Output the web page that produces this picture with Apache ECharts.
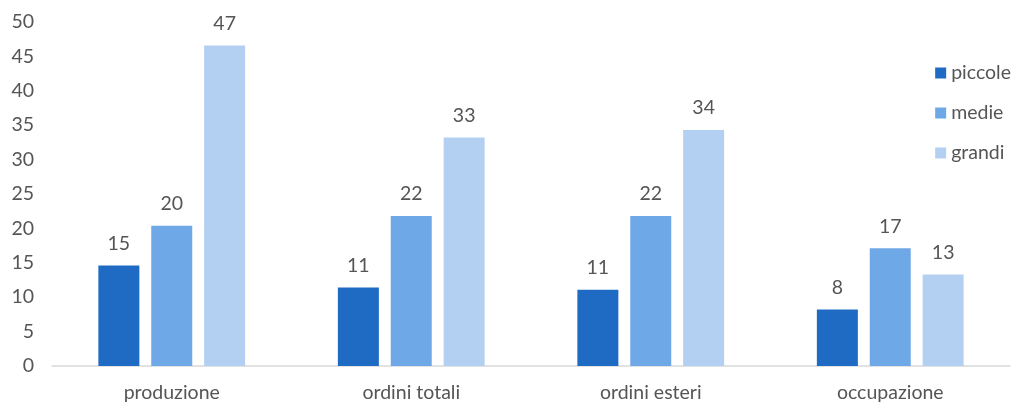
<!DOCTYPE html>
<html><head><meta charset="utf-8">
<script src="https://cdn.jsdelivr.net/npm/echarts@6/dist/echarts.min.js"></script>
<style>html,body{margin:0;padding:0;background:#fff}#c{width:1018px;height:403px}</style>
</head><body><div id="c"></div>
<script>
const categories = ['produzione', 'ordini totali', 'ordini esteri', 'occupazione'];
const piccole = [14.6, 11.4, 11.1, 8.2];
const medie = [20.4, 21.8, 21.8, 17.1];
const grandi = [46.6, 33.2, 34.3, 13.3];
const seriesNames = ['piccole', 'medie', 'grandi'];
const colors = ['#1F6BC4', '#6FA8E6', '#B3D0F3'];

const font = 'Lato, "Open Sans", sans-serif';
const txt = '#555555';
const fs = 19.5;
const chart = echarts.init(document.getElementById('c'));
const mk = (name, data, color) => ({
  name, type: 'bar', data, barWidth: 41, barGap: '29%',
  itemStyle: { color },
  label: { show: true, position: 'top', distance: 12, color: txt, fontSize: fs, fontFamily: font,
    formatter: p => Math.round(p.value) }
});
chart.setOption({
  animation: false,
  grid: { left: 52, right: 8, top: 22, bottom: 36 },
  legend: {
    orient: 'vertical', right: 2, top: 58, itemWidth: 11, itemHeight: 11, itemGap: 20,
    icon: 'rect', itemStyle: { borderWidth: 0 },
    textStyle: { color: txt, fontSize: fs, fontFamily: font, padding: [0, 0, 0, 0] },
    data: seriesNames
  },
  xAxis: {
    type: 'category', data: categories,
    axisLine: { lineStyle: { color: '#D9D9D9', width: 1.5 } },
    axisTick: { show: false },
    axisLabel: { color: txt, fontSize: fs, fontFamily: font, margin: 17 }
  },
  yAxis: {
    type: 'value', min: 0, max: 50, interval: 5,
    splitLine: { show: false },
    axisLine: { show: false }, axisTick: { show: false },
    axisLabel: { color: txt, fontSize: fs, fontFamily: font, margin: 18, align: 'right' }
  },
  series: [mk(seriesNames[0], piccole, colors[0]), mk(seriesNames[1], medie, colors[1]), mk(seriesNames[2], grandi, colors[2])]
});
</script></body></html>
